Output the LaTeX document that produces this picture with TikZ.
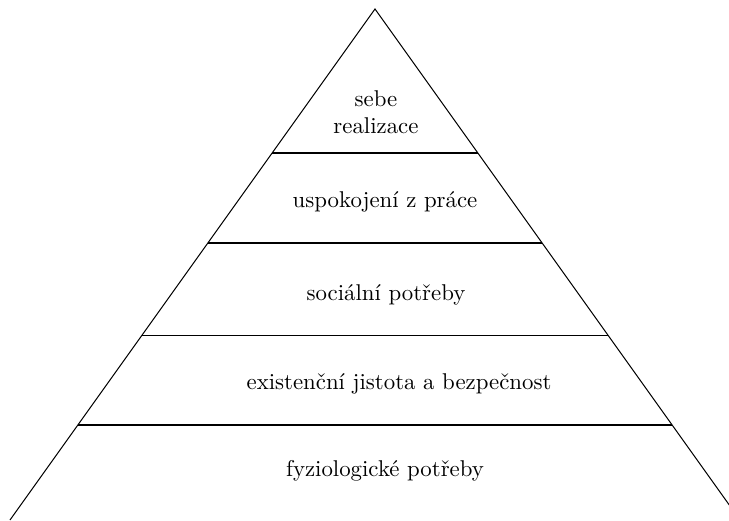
\documentclass[tikz,border=0pt]{standalone}
\usetikzlibrary{calc}
\begin{document}
\begin{tikzpicture}[x=0.438pt,y=-0.438pt,
  level/.style={align=center, inner sep=0pt},
  edge/.style={draw=black, line width=0.45pt}]
\useasboundingbox (0,0) rectangle (729,520);
\clip (0,0) rectangle (729,520);
% pyramid outline
\coordinate (apex) at (375,9);
\coordinate (bl) at (10,520);
\coordinate (br) at (740,520);
\draw[edge] (bl) -- (apex) -- (br);
% level dividers
\foreach \t [count=\i] in {0.2818,0.4579,0.6380,0.8141}{
  \coordinate (l\i) at ($(apex)!\t!(bl)$);
  \coordinate (r\i) at ($(apex)!\t!(br)$);
  \draw[edge] (l\i) -- (r\i);
}
% labels
\node[level] (n5) at (376,112) {sebe\\realizace};
\node[level] (n4) at (385,202) {uspokojení z práce};
\node[level] (n3) at (386,295) {sociální potřeby};
\node[level] (n2) at (399,384) {existenční jistota a bezpečnost};
\node[level] (n1) at (385,471) {fyziologické potřeby};
\end{tikzpicture}
\end{document}
